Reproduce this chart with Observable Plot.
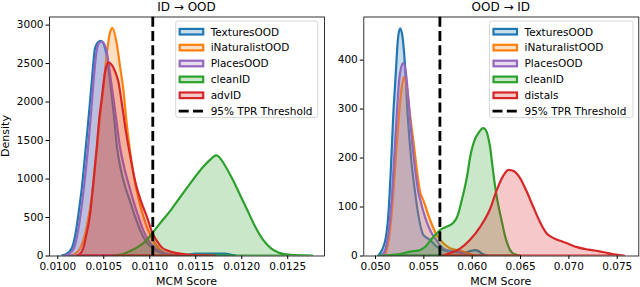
<!DOCTYPE html>
<html><head><meta charset="utf-8">
<script src="https://cdn.jsdelivr.net/npm/d3@7"></script>
<script src="https://cdn.jsdelivr.net/npm/@observablehq/plot@0.6"></script>
<style>
body{margin:0;background:#fff;}
#root{position:relative;width:640px;height:287px;overflow:hidden;background:#fff;font-family:"DejaVu Sans",sans-serif;}
#root > svg, #root > figure{position:absolute;top:0;margin:0;}
#overlay{position:absolute;left:0;top:0;pointer-events:none;}
</style></head>
<body><div id="root"></div>
<script>
// ---------- data ----------
const titles = ["ID \u2192 OOD", "OOD \u2192 ID"];
const xLabel = "MCM Score";
const yLabel = "Density";
const thresholdLabel = "95% TPR Threshold";
const leftNames = ["TexturesOOD", "iNaturalistOOD", "PlacesOOD", "cleanID", "advID"];
const rightNames = ["TexturesOOD", "iNaturalistOOD", "PlacesOOD", "cleanID", "distals"];
const colors = ["#1f77b4", "#ff7f0e", "#9467bd", "#2ca02c", "#d62728"];

const leftXTicks = [0.0100, 0.0105, 0.0110, 0.0115, 0.0120, 0.0125];
const leftYTicks = [0, 500, 1000, 1500, 2000, 2500, 3000];
const rightXTicks = [0.050, 0.055, 0.060, 0.065, 0.070, 0.075];
const rightYTicks = [0, 100, 200, 300, 400];
const leftThreshold = 0.011033;
const rightThreshold = 0.05666;

// ID -> OOD densities [score, density]
const L_textures = [[0.010048,0],[0.010095,15],[0.010157,94],[0.010193,250],[0.010229,527],[0.010269,900],[0.010309,1394],[0.010345,1850],[0.010375,2260],[0.010411,2694],[0.010443,2770],[0.010473,2788],[0.010520,2694],[0.010574,2260],[0.010615,1827],[0.010650,1400],[0.010690,1120],[0.010737,900],[0.010792,700],[0.010846,504],[0.010901,330],[0.010955,200],[0.011010,120],[0.011064,70],[0.011140,30],[0.011228,10],[0.011337,3],[0.011391,4],[0.011446,15],[0.011500,25],[0.011827,25],[0.011881,12],[0.011936,0]];
const L_inat = [[0.010138,0],[0.010204,30],[0.010269,150],[0.010324,400],[0.010378,800],[0.010422,1300],[0.010465,1800],[0.010509,2260],[0.010541,2650],[0.010574,2900],[0.010599,2954],[0.010647,2750],[0.010683,2450],[0.010719,2150],[0.010756,1700],[0.010792,1350],[0.010825,1080],[0.010879,760],[0.010937,504],[0.010988,330],[0.011046,190],[0.011097,100],[0.011151,45],[0.011228,15],[0.011315,0]];
const L_places = [[0.010073,0],[0.010117,15],[0.010182,94],[0.010215,250],[0.010253,527],[0.010291,900],[0.010334,1394],[0.010367,1850],[0.010394,2260],[0.010427,2650],[0.010454,2760],[0.010484,2780],[0.010530,2690],[0.010585,2260],[0.010635,1827],[0.010683,1400],[0.010727,1150],[0.010773,938],[0.010825,720],[0.010882,504],[0.010934,330],[0.010988,200],[0.011042,120],[0.011097,70],[0.011173,30],[0.011249,10],[0.011337,0]];
const L_clean = [[0.010607,0],[0.010737,30],[0.010846,90],[0.010955,180],[0.011032,290],[0.011119,420],[0.011228,580],[0.011337,760],[0.011446,938],[0.011587,1154],[0.011663,1245],[0.011700,1285],[0.011729,1300],[0.011760,1280],[0.011805,1205],[0.011914,970],[0.011990,780],[0.012066,590],[0.012154,370],[0.012230,215],[0.012317,100],[0.012404,40],[0.012535,8],[0.012771,0]];
const L_adv = [[0.010215,0],[0.010247,20],[0.010283,94],[0.010313,250],[0.010356,527],[0.010389,900],[0.010429,1394],[0.010454,1750],[0.010484,2044],[0.010520,2390],[0.010556,2507],[0.010596,2470],[0.010629,2390],[0.010664,2260],[0.010705,1950],[0.010748,1600],[0.010792,1300],[0.010852,938],[0.010912,700],[0.010974,504],[0.011032,300],[0.011083,190],[0.011140,100],[0.011206,60],[0.011282,35],[0.011337,25],[0.011446,10],[0.011554,5],[0.011718,0]];

// OOD -> ID densities [score, density]
const R_textures = [[0.05034,0],[0.05103,28],[0.05138,83],[0.05166,185],[0.05189,287],[0.05214,369],[0.05235,437],[0.05259,464],[0.05282,450],[0.05310,389],[0.05338,287],[0.05380,185],[0.05414,130],[0.05448,83],[0.05500,42],[0.05569,32],[0.05638,18],[0.05707,11],[0.05810,8],[0.05931,6],[0.05983,9],[0.06035,11],[0.06069,9],[0.06104,4],[0.06156,0]];
const R_inat = [[0.05103,0],[0.05145,35],[0.05186,117],[0.05217,205],[0.05248,287],[0.05274,340],[0.05300,365],[0.05331,340],[0.05362,287],[0.05393,240],[0.05431,178],[0.05466,130],[0.05500,113],[0.05569,73],[0.05638,42],[0.05707,25],[0.05776,15],[0.05879,10],[0.05983,3],[0.06045,0]];
const R_places = [[0.05052,0],[0.05086,4],[0.05131,35],[0.05173,117],[0.05200,205],[0.05225,287],[0.05248,355],[0.05269,383],[0.05293,393],[0.05318,376],[0.05345,321],[0.05380,240],[0.05414,178],[0.05448,130],[0.05466,115],[0.05517,79],[0.05569,52],[0.05621,35],[0.05672,21],[0.05742,11],[0.05845,8],[0.05931,3],[0.05983,0]];
const R_clean = [[0.05034,0],[0.05155,1],[0.05259,3],[0.05362,8],[0.05448,10],[0.05500,15],[0.05535,21],[0.05569,30],[0.05603,38],[0.05638,45],[0.05672,52],[0.05742,59],[0.05810,67],[0.05845,77],[0.05862,86],[0.05897,113],[0.05931,141],[0.05955,165],[0.05983,200],[0.06035,238],[0.06069,250],[0.06120,260],[0.06156,252],[0.06172,240],[0.06190,222],[0.06207,195],[0.06224,168],[0.06242,141],[0.06259,120],[0.06293,86],[0.06311,70],[0.06345,40],[0.06363,28],[0.06397,11],[0.06438,3],[0.06500,0]];
const R_distals = [[0.05704,0],[0.05776,5],[0.05879,14],[0.05983,32],[0.06086,58],[0.06190,95],[0.06262,135],[0.06324,162],[0.06381,175],[0.06438,172],[0.06500,158],[0.06570,130],[0.06635,100],[0.06707,68],[0.06776,45],[0.06842,36],[0.06914,30],[0.06986,25],[0.07090,17],[0.07204,12],[0.07307,9],[0.07411,5],[0.07493,2],[0.07576,0]];

const leftSeries = [L_textures, L_inat, L_places, L_clean, L_adv];
const rightSeries = [R_textures, R_inat, R_places, R_clean, R_distals];

// ---------- drawing ----------
const H = 287, MT = 16.5, MB = 31.5;

function panel({series, names, threshold, xDomain, yDomain, xTicks, xFmt, yTicks, width, marginLeft, marginRight}) {
  const marks = [];
  series.forEach((vals, i) => {
    const data = vals.map(([x, y]) => ({x, y, name: names[i]}));
    marks.push(Plot.areaY(data, {
      x: "x", y: "y", fill: colors[i], fillOpacity: 0.25,
      stroke: colors[i], strokeWidth: 2.2, strokeLinejoin: "round",
      curve: "monotone-x", clip: true
    }));
  });
  marks.push(Plot.ruleX([{x: threshold, y1: yDomain[0], y2: yDomain[1]}], {
    x: "x", y1: "y1", y2: "y2", stroke: "black", strokeWidth: 2.8, strokeDasharray: "10,4.3"
  }));
  marks.push(Plot.frame({stroke: "black", strokeWidth: 0.8}));
  marks.push(Plot.axisX({ticks: xTicks, tickFormat: xFmt, tickSize: 3.5, tickPadding: 3.5, label: null}));
  marks.push(Plot.axisY({ticks: yTicks, tickFormat: d3.format("d"), tickSize: 3.5, tickPadding: 2.5, label: null}));
  return Plot.plot({
    width, height: H, marginLeft, marginRight, marginTop: MT, marginBottom: MB,
    x: {domain: xDomain}, y: {domain: yDomain},
    style: {fontFamily: "DejaVu Sans", fontSize: "10.5px", color: "black", background: "transparent", overflow: "visible"},
    marks
  });
}

const root = document.getElementById("root");
const left = panel({
  series: leftSeries, names: leftNames, threshold: leftThreshold,
  xDomain: [0.00991, 0.01290], yDomain: [0, 3105],
  xTicks: leftXTicks, xFmt: d3.format(".4f"), yTicks: leftYTicks,
  width: 330, marginLeft: 49, marginRight: 6
});
left.style.left = "0px";
root.appendChild(left);

const right = panel({
  series: rightSeries, names: rightNames, threshold: rightThreshold,
  xDomain: [0.04879, 0.07723], yDomain: [0, 488],
  xTicks: rightXTicks, xFmt: d3.format(".3f"), yTicks: rightYTicks,
  width: 310, marginLeft: 33.3, marginRight: 1.7
});
right.style.left = "330px";
root.appendChild(right);

// overlay: titles, axis labels, legends
const NS = "http://www.w3.org/2000/svg";
const ov = document.createElementNS(NS, "svg");
ov.setAttribute("id", "overlay");
ov.setAttribute("width", 640); ov.setAttribute("height", 287);
ov.setAttribute("font-family", "DejaVu Sans");
root.appendChild(ov);
function el(tag, attrs, text) {
  const e = document.createElementNS(NS, tag);
  for (const k in attrs) e.setAttribute(k, attrs[k]);
  if (text != null) e.textContent = text;
  ov.appendChild(e);
  return e;
}
const centers = [186.5, 500.8];
titles.forEach((t, i) => el("text", {x: centers[i], y: 11, "text-anchor": "middle", "font-size": 12}, t));
centers.forEach(c => el("text", {x: c, y: 285, "text-anchor": "middle", "font-size": 11}, xLabel));
el("text", {transform: "translate(8.5,136) rotate(-90)", "text-anchor": "middle", "font-size": 11}, yLabel);

function legend(x0, y0, w, names) {
  el("rect", {x: x0, y: y0, width: w, height: 96.5, rx: 2.5, fill: "white", "fill-opacity": 0.8, stroke: "#cccccc", "stroke-width": 0.8});
  const rowH = 15.9, c0 = y0 + 10.7;
  names.forEach((n, i) => {
    const cy = c0 + i * rowH;
    el("rect", {x: x0 + 4, y: cy - 2.8, width: 23.5, height: 5.6, fill: colors[i], "fill-opacity": 0.25, stroke: colors[i], "stroke-width": 2.2});
    el("text", {x: x0 + 35, y: cy + 3.8, "font-size": 10.5}, n);
  });
  const cy = c0 + 5 * rowH;
  el("line", {x1: x0 + 3, x2: x0 + 28.5, y1: cy, y2: cy, stroke: "black", "stroke-width": 2.8, "stroke-dasharray": "10,4.3"});
  el("text", {x: x0 + 35, y: cy + 3.8, "font-size": 10.5}, thresholdLabel);
}
legend(175.7, 21, 142, leftNames);
legend(489.5, 21, 143.5, rightNames);
</script>
</body></html>
